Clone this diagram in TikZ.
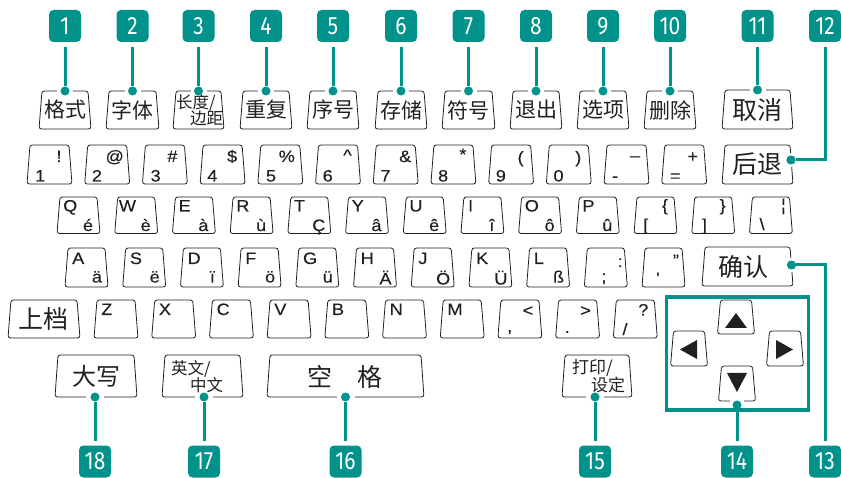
\documentclass[tikz,border=0pt]{standalone}
\usepackage{fontspec}
\setmainfont{Liberation Sans}
\newfontfamily\latf[FakeStretch=1.1,FakeBold=0.25]{Liberation Sans}
\newfontfamily\cjk{Noto Sans CJK SC}
\newfontfamily\badgefont[FakeStretch=0.84]{Fira Sans}
\usetikzlibrary{calc}
\definecolor{tealc}{RGB}{0,146,139}
\definecolor{ink}{RGB}{35,31,32}
\tikzset{
  keyline/.style={draw=ink, line width=0.8pt, rounded corners=2.5pt},
  keyarea/.style={inner sep=0pt, outer sep=0pt},
  badge/.style={fill=tealc, rounded corners=4.5pt, minimum width=32pt, minimum height=32pt, inner sep=0pt, text=white, font=\badgefont\fontsize{25}{25}\selectfont},
  conn/.style={draw=tealc, line width=3pt},
  dotc/.style={circle, fill=tealc, inner sep=0pt, minimum size=9pt},
  gapw/.style={draw=white, line width=2.6pt},
  latin/.style={text=ink, inner sep=0pt},
  cn/.style={text=ink, inner sep=0pt},
  arrowbox/.style={draw=tealc, line width=3.5pt, inner sep=0pt, outer sep=0pt},
  tri/.style={fill=ink},
}
\newcommand\lt[1]{{\latf\fontsize{16.5pt}{16.5pt}\selectfont #1}}
\newcommand\kb[5]{%
  \node[keyarea, minimum width=#4pt, minimum height=#5pt] (#1) at ({#2+#4/2},{#3+#5/2}) {};
  \draw[keyline] (#1.north) -- ([xshift=-3pt]#1.north east) -- (#1.south east) -- (#1.south west) -- ([xshift=3pt]#1.north west) -- cycle;}
\newcommand\ck[7]{\kb{#1}{#2}{#3}{#4}{#5}%
  \node[cn, font=\cjk\fontsize{#6}{#6}\selectfont] (#1-t) at (#1.center) {#7};}
\newcommand\pk[9]{\kb{#1}{#2}{#3}{#4}{#5}%
  \node[latin, anchor=base west] (#1-l) at ([shift={#8}]#1.south west) {\lt{#6}};
  \node[latin, anchor=base] (#1-u) at ([shift={#9}]#1.north east) {\lt{#7}};}
\newcommand\lk[9]{\kb{#1}{#2}{#3}{#4}{#5}%
  \node[latin, anchor=base west] (#1-l) at ([shift={#8}]#1.north west) {\lt{#6}};
  \node[latin, anchor=base] (#1-a) at ([shift={#9}]#1.south east) {\lt{#7}};}
\newcommand\sk[6]{\kb{#1}{#2}{#3}{#4}{#5}%
  \node[latin, anchor=base west] (#1-l) at ([shift={(7,15)}]#1.north west) {\lt{#6}};}

\begin{document}
\begin{tikzpicture}[x=1pt,y=-1pt]
\useasboundingbox (0,0) rectangle (841,478);

% ---------- top row ----------
\ck{t1}{39}{91}{52}{38}{21}{格式}
\ck{t2}{106}{91}{53}{38}{21}{字体}
\kb{t3}{173}{91}{51}{38}
\node[cn, font=\cjk\fontsize{16.5}{16.5}\selectfont, anchor=west] (t3-a) at ([shift={(3,12.5)}]t3.north west) {长度/};
\node[cn, font=\cjk\fontsize{16.5}{16.5}\selectfont, anchor=west] (t3-b) at ([shift={(17,27)}]t3.north west) {边距};
\ck{t4}{240}{91}{52}{38}{21}{重复}
\ck{t5}{307}{91}{52}{38}{21}{序号}
\ck{t6}{375}{91}{52}{38}{21}{存储}
\ck{t7}{442}{91}{53}{38}{21}{符号}
\ck{t8}{510}{91}{52}{38}{21}{退出}
\ck{t9}{577}{91}{52}{38}{21}{选项}
\ck{t10}{644}{91}{52}{38}{21}{删除}
\ck{t11}{722}{90}{71}{39}{25}{取消}

% ---------- number row ----------
\pk{n1}{27}{145}{45}{39}{1}{!}{(8,-2.5)}{(-13,17)}
\pk{n2}{84.7}{145}{45}{39}{2}{@}{(7,-2.5)}{(-15,17)}
\pk{n3}{142.4}{145}{45}{39}{3}{\#}{(8,-2.5)}{(-15,17)}
\pk{n4}{200.1}{145}{45}{39}{4}{\$}{(7,-2.5)}{(-13,17)}
\pk{n5}{257.8}{145}{45}{39}{5}{\%}{(8,-2.5)}{(-16,17)}
\pk{n6}{315.5}{145}{45}{39}{6}{\textasciicircum}{(7,-2.5)}{(-13,16)}
\pk{n7}{373.2}{145}{45}{39}{7}{\&}{(7,-2.5)}{(-13,17)}
\pk{n8}{430.9}{145}{45}{39}{8}{*}{(7,-2.5)}{(-13,15)}
\pk{n9}{488.6}{145}{45}{39}{9}{(}{(7,-2.5)}{(-13,18)}
\pk{n0}{546.3}{145}{45}{39}{0}{)}{(7,-2.5)}{(-13,18)}
\pk{nm}{604}{145}{45}{39}{-}{–}{(8,-2.5)}{(-14,16)}
\pk{ne}{661.7}{145}{45}{39}{=}{+}{(8,-2.5)}{(-14,17)}
\ck{bs}{722}{145}{71}{39}{25}{后退}

% ---------- QWERTY row ----------
\lk{q1}{57}{197}{43}{36.5}{Q}{é}{(6,14.5)}{(-12,-2.5)}
\lk{q2}{114.7}{197}{43}{36.5}{W}{è}{(4,14.5)}{(-12,-2.5)}
\lk{q3}{172.4}{197}{43}{36.5}{E}{à}{(6,14.5)}{(-12,-2.5)}
\lk{q4}{230.1}{197}{43}{36.5}{R}{ù}{(6,14.5)}{(-12,-2.5)}
\lk{q5}{287.8}{197}{43}{36.5}{T}{Ç}{(6,14.5)}{(-12,-2.5)}
\lk{q6}{345.5}{197}{43}{36.5}{Y}{â}{(6,14.5)}{(-12,-2.5)}
\lk{q7}{403.2}{197}{43}{36.5}{U}{ê}{(6,14.5)}{(-12,-2.5)}
\lk{q8}{460.9}{197}{43}{36.5}{I}{î}{(7,14.5)}{(-12,-2.5)}
\lk{q9}{518.6}{197}{43}{36.5}{O}{ô}{(6,14.5)}{(-12,-2.5)}
\lk{q10}{576.3}{197}{43}{36.5}{P}{û}{(6,14.5)}{(-12,-2.5)}
\pk{q11}{634}{197}{43}{36.5}{[}{\{}{(9,-3)}{(-12,14)}
\pk{q12}{691.7}{197}{43}{36.5}{]}{\}}{(10,-3)}{(-12,14)}
\pk{q13}{749.4}{197}{43}{36.5}{\textbackslash}{¦}{(10,-3.5)}{(-9,13.5)}

% ---------- ASDF row ----------
\lk{a1}{65}{248}{43}{39}{A}{ä}{(7,16)}{(-11,-4.5)}
\lk{a2}{122.7}{248}{43}{39}{S}{ë}{(7,16)}{(-11,-4.5)}
\lk{a3}{180.4}{248}{43}{39}{D}{ï}{(7,16)}{(-11,-4.5)}
\lk{a4}{238.1}{248}{43}{39}{F}{ö}{(7,16)}{(-11,-4.5)}
\lk{a5}{295.8}{248}{43}{39}{G}{ü}{(7,16)}{(-11,-4.5)}
\lk{a6}{353.5}{248}{43}{39}{H}{Ä}{(7,16)}{(-11,-2.5)}
\lk{a7}{411.2}{248}{43}{39}{J}{Ö}{(7,16)}{(-11,-2.5)}
\lk{a8}{468.9}{248}{43}{39}{K}{Ü}{(7,16)}{(-11,-2.5)}
\lk{a9}{526.6}{248}{43}{39}{L}{ß}{(7,16)}{(-11,-4.5)}
\pk{a10}{584.3}{248}{43}{39}{;}{:}{(17,-5)}{(-7,19)}
\pk{a11}{642}{248}{43}{39}{\textquotesingle}{”}{(14,-3)}{(-9,18)}
\kb{ok}{702}{247}{91}{39}
\node[cn, font=\cjk\fontsize{25}{25}\selectfont] (ok-t) at ([shift={(-4,0)}]ok.center) {确认};

% ---------- ZXCV row ----------
\ck{kshift}{8}{300}{72}{38}{25}{上档}
\sk{z1}{94}{300}{44}{38}{Z}
\sk{z2}{151.7}{300}{44}{38}{X}
\sk{z3}{209.4}{300}{44}{38}{C}
\sk{z4}{267.1}{300}{44}{38}{V}
\sk{z5}{324.8}{300}{44}{38}{B}
\sk{z6}{382.5}{300}{44}{38}{N}
\sk{z7}{440.2}{300}{44}{38}{M}
\pk{z8}{497.9}{300}{44}{38}{,}{<}{(9,-6)}{(-14,16)}
\pk{z9}{555.6}{300}{44}{38}{.}{>}{(9,-5)}{(-14,16)}
\pk{z10}{613.3}{300}{44}{38}{/}{?}{(9,-3)}{(-14,15.5)}

% ---------- bottom row ----------
\ck{caps}{55}{355}{82}{42}{24}{大写}
\kb{lang}{162}{355}{81}{42}
\node[cn, font=\cjk\fontsize{16.5}{16.5}\selectfont, anchor=west] (lang-a) at ([shift={(9,14)}]lang.north west) {英文/};
\node[cn, font=\cjk\fontsize{16.5}{16.5}\selectfont, anchor=west] (lang-b) at ([shift={(28,30)}]lang.north west) {中文};
\kb{space}{267}{355}{157}{42}
\node[cn, font=\cjk\fontsize{25}{25}\selectfont] (space-a) at ([shift={(-26,0.5)}]space.center) {空};
\node[cn, font=\cjk\fontsize{25}{25}\selectfont] (space-b) at ([shift={(24,0.5)}]space.center) {格};
\kb{print}{562}{355}{70}{42}
\node[cn, font=\cjk\fontsize{17}{17}\selectfont, anchor=west] (print-a) at ([shift={(10,13)}]print.north west) {打印/};
\node[cn, font=\cjk\fontsize{17}{17}\selectfont, anchor=west] (print-b) at ([shift={(29,30)}]print.north west) {设定};

% ---------- arrow cluster ----------
\node[arrowbox, minimum width=142pt, minimum height=113pt] (abox) at (737.4,353.7) {};
\kb{kup}{717.5}{300}{37}{34}
\kb{klt}{670.5}{331}{37}{35}
\kb{krt}{766.5}{331}{37}{35}
\kb{kdn}{718.5}{366}{37}{35}
\fill[tri] ([shift={(-11,11)}]kup.center) -- ([shift={(11,11)}]kup.center) -- ([shift={(0,-4)}]kup.center) -- cycle;
\fill[tri] ([shift={(-9,1)}]klt.center) -- ([shift={(8,-8.5)}]klt.center) -- ([shift={(8,10.5)}]klt.center) -- cycle;
\fill[tri] ([shift={(8,1)}]krt.center) -- ([shift={(-9,-8.5)}]krt.center) -- ([shift={(-9,10.5)}]krt.center) -- cycle;
\fill[tri] ([shift={(-10,-10.5)}]kdn.center) -- ([shift={(10,-10.5)}]kdn.center) -- ([shift={(0,8.5)}]kdn.center) -- cycle;

% ---------- top callouts ----------
\foreach \i in {1,...,11} {
  \node[badge] (b\i) at (t\i.north |- 0,26) {\i};
  \draw[gapw] ([shift={(-8,0)}]t\i.north) -- ([shift={(8,0)}]t\i.north);
  \node[dotc] (d\i) at (t\i.north) {};
  \draw[conn] ([shift={(0,5)}]b\i.south) -- (d\i);
}
% 12
\node[badge] (b12) at (825,26) {12};
\node[dotc] (d12) at ([shift={(-2,-4.5)}]bs.east) {};
\draw[gapw] ([shift={(0,-7)}]d12.center) -- ([shift={(0,7)}]d12.center);
\node[dotc] at (d12.center) {};
\draw[conn] ([shift={(0,5)}]b12.south) |- (d12);
% 13
\node[badge] (b13) at (825,461.5) {13};
\node[dotc] (d13) at ([shift={(-1.5,-1.5)}]ok.east) {};
\draw[gapw] ([shift={(0,-7)}]d13.center) -- ([shift={(0,7)}]d13.center);
\node[dotc] at (d13.center) {};
\draw[conn] (d13) -| ([shift={(0,-4.5)}]b13.north);
% 14
\draw[gapw] ([shift={(-7,0)}]kdn.south) -- ([shift={(7,0)}]kdn.south);
\node[dotc] (d14) at ([shift={(0,4)}]kdn.south) {};
\node[badge] (b14) at (d14 |- 0,461.5) {14};
\draw[conn] (d14) -- ([shift={(0,-4.5)}]b14.north);
% 15-18
\draw[gapw] ([shift={(-11,0)}]print.south) -- ([shift={(7,0)}]print.south);
\node[dotc] (d15) at ([shift={(-2,0)}]print.south) {};
\draw[gapw] ([shift={(-9,0)}]space.south) -- ([shift={(9,0)}]space.south);
\node[dotc] (d16) at (space.south) {};
\draw[gapw] ([shift={(-7.5,0)}]lang.south) -- ([shift={(10.5,0)}]lang.south);
\node[dotc] (d17) at ([shift={(1.5,0)}]lang.south) {};
\draw[gapw] ([shift={(-10,0)}]caps.south) -- ([shift={(8,0)}]caps.south);
\node[dotc] (d18) at ([shift={(-1,0)}]caps.south) {};
\foreach \i in {15,16,17,18} {
  \node[badge] (b\i) at (d\i |- 0,461.5) {\i};
  \draw[conn] (d\i) -- ([shift={(0,-4.5)}]b\i.north);
}
\end{tikzpicture}
\end{document}
